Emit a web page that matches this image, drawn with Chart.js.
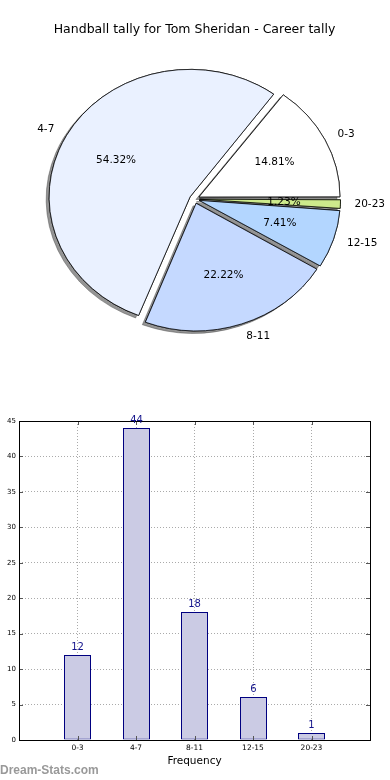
<!DOCTYPE html>
<html>
<head>
<meta charset="utf-8">
<script src="https://cdn.jsdelivr.net/npm/chart.js@4.4.0/dist/chart.umd.min.js"></script>
<style>
  body { margin: 0; background: #fff; width: 390px; height: 780px; position: relative; overflow: hidden; }
  #pieWrap { position: absolute; left: 0; top: 0; width: 390px; height: 360px; }
  #barWrap { position: absolute; left: 0; top: 400px; width: 390px; height: 380px; }
  .credit { position: absolute; left: 0; top: 764px; font: bold 12px 'Liberation Sans', sans-serif; line-height: 1; color: #999; }
</style>
</head>
<body>
<div id="pieWrap"><canvas id="pieChart" width="390" height="360"></canvas></div>
<div id="barWrap"><canvas id="barChart" width="390" height="380"></canvas></div>
<div class="credit">Dream-Stats.com</div>
<script>
// --- DATA --- //
const categories = ['0-3', '4-7', '8-11', '12-15', '20-23']
const tallies = [12, 44, 18, 6, 1]
const yTickMax = 45
const yTickStep = 5

const sliceColors = ['#ffffff', '#eaf1ff', '#c5d9ff', '#b3d6ff', '#cdea8c']
const FONT = "'DejaVu Sans', sans-serif"

// --- PIE --- //
const EXPLODE = 5 // px each wedge is pushed out
const PIE_R = 141
const SQUASH = 0.904 // pie is an ellipse in the original

const total = tallies.reduce((a, b) => a + b, 0)
// original runs counter-clockwise from 3 o'clock, Chart.js goes clockwise
const pieLabels = categories.slice().reverse()
const pieValues = tallies.slice().reverse()
const pieColors = sliceColors.slice().reverse()

const pieExtras = {
  id: 'pieExtras',
  beforeDatasetsDraw: chart => {
    const ctx = chart.ctx
    const arcs = chart.getDatasetMeta(0).data
    // Chart.js grows the radius of offset arcs, take that back
    arcs.forEach(arc => {
      const fix = 1 - Math.sin(Math.min(Math.PI, arc.circumference))
      arc.outerRadius = PIE_R - EXPLODE * fix
    })
    const { x, y } = arcs[0]
    ctx.save()
    ctx.translate(x, y)
    ctx.scale(1, SQUASH)
    ctx.translate(-x, -y)
    // shadow pass, the normal draw covers it afterwards
    arcs.forEach(arc => {
      ctx.save()
      ctx.shadowColor = 'rgba(60, 60, 60, 0.55)'
      ctx.shadowOffsetX = -3
      ctx.shadowOffsetY = 2.5
      arc.draw(ctx)
      ctx.restore()
    })
  },
  afterDatasetsDraw: chart => {
    const ctx = chart.ctx
    ctx.restore()
    const arcs = chart.getDatasetMeta(0).data
    ctx.save()
    ctx.fillStyle = '#000'
    ctx.font = `10.5px ${FONT}`
    ctx.textBaseline = 'middle'
    arcs.forEach((arc, i) => {
      const mid = (arc.startAngle + arc.endAngle) / 2
      const cos = Math.cos(mid)
      const sin = Math.sin(mid)
      const at = d => [arc.x + cos * d, arc.y + sin * d * SQUASH]

      let [px, py] = at(EXPLODE + 0.6 * PIE_R)
      ctx.textAlign = 'center'
      ctx.fillText(((pieValues[i] / total) * 100).toFixed(2) + '%', px, py)

      ;[px, py] = at(EXPLODE + 1.1 * PIE_R)
      ctx.textAlign = cos > 0 ? 'left' : 'right'
      ctx.fillText(pieLabels[i], px, py)
    })
    ctx.restore()
  }
}

new Chart(document.getElementById('pieChart'), {
  type: 'pie',
  data: {
    labels: pieLabels,
    datasets: [
      {
        data: pieValues,
        backgroundColor: pieColors,
        borderColor: '#000',
        borderWidth: 0.8,
        offset: EXPLODE * 4,
        rotation: 90,
        radius: PIE_R,
        clip: false
      }
    ]
  },
  options: {
    responsive: false,
    animation: false,
    events: [],
    layout: { padding: { top: 0, bottom: 9, left: 0, right: 1 } },
    plugins: {
      legend: { display: false },
      tooltip: { enabled: false },
      title: {
        display: true,
        text: 'Handball tally for Tom Sheridan - Career tally',
        color: '#000',
        font: { family: FONT, size: 12.5, weight: 'normal' },
        padding: { top: 22, bottom: 10 }
      }
    }
  },
  plugins: [pieExtras]
})

// --- BAR --- //
const barExtras = {
  id: 'barExtras',
  beforeDatasetsDraw: chart => {
    // snap bars to whole pixels so the thin edges stay crisp
    chart.getDatasetMeta(0).data.forEach(bar => {
      bar.x = Math.round(bar.x - 0.5) + 0.5
      bar.y = Math.round(bar.y)
    })
  },
  afterDraw: chart => {
    const ctx = chart.ctx
    const { left, top, right, bottom } = chart.chartArea
    const xs = chart.scales.x
    const ys = chart.scales.y
    ctx.save()

    // inward tick marks
    ctx.strokeStyle = '#555'
    ctx.lineWidth = 1
    ctx.beginPath()
    ys.ticks.forEach(t => {
      const py = Math.round(ys.getPixelForValue(t.value)) + 0.5
      ctx.moveTo(left, py)
      ctx.lineTo(left + 4, py)
      ctx.moveTo(right, py)
      ctx.lineTo(right - 4, py)
    })
    xs.ticks.forEach(t => {
      const px = Math.round(xs.getPixelForValue(t.value)) + 0.5
      ctx.moveTo(px, bottom)
      ctx.lineTo(px, bottom - 4)
      ctx.moveTo(px, top)
      ctx.lineTo(px, top + 4)
    })
    ctx.stroke()

    // frame
    ctx.strokeStyle = '#000'
    ctx.strokeRect(left + 0.5, top + 0.5, right - left, bottom - top)

    // counts over the bars
    ctx.fillStyle = '#14148c'
    ctx.font = `10px ${FONT}`
    ctx.textAlign = 'center'
    ctx.textBaseline = 'middle'
    chart.getDatasetMeta(0).data.forEach((bar, i) => {
      ctx.fillText(String(tallies[i]), bar.x, bar.y - 8)
    })
    ctx.restore()
  }
}

new Chart(document.getElementById('barChart'), {
  type: 'bar',
  data: {
    datasets: [
      {
        data: tallies.map((v, i) => ({ x: i, y: v })),
        backgroundColor: '#cbcbe4',
        borderColor: '#000080',
        borderWidth: 1,
        borderSkipped: false,
        inflateAmount: 0,
        barThickness: 27
      }
    ]
  },
  options: {
    responsive: false,
    animation: false,
    events: [],
    layout: { padding: { top: 21, right: 20, left: 0, bottom: 0 } },
    plugins: {
      legend: { display: false },
      tooltip: { enabled: false }
    },
    scales: {
      x: {
        type: 'linear',
        min: -1,
        max: categories.length,
        offset: false,
        z: 1,
        afterBuildTicks: axis => {
          axis.ticks = categories.map((c, i) => ({ value: i }))
        },
        afterFit: axis => {
          axis.height = 40
        },
        ticks: {
          callback: v => categories[v],
          font: { family: FONT, size: 7.5 },
          color: '#000',
          padding: 4,
          maxRotation: 0,
          autoSkip: false
        },
        grid: { color: '#aaaaaa', drawTicks: false, offset: false },
        border: { display: false, dash: [1, 2] },
        title: {
          display: true,
          text: 'Frequency',
          color: '#000',
          font: { family: FONT, size: 10.5 },
          padding: { top: 0, bottom: 12.7 }
        }
      },
      y: {
        min: 0,
        max: yTickMax,
        z: 1,
        afterFit: axis => {
          axis.width = 19
        },
        ticks: {
          stepSize: yTickStep,
          font: { family: FONT, size: 7 },
          color: '#000',
          padding: 3
        },
        grid: { color: '#aaaaaa', drawTicks: false },
        border: { display: false, dash: [1, 2] }
      }
    }
  },
  plugins: [barExtras]
})
</script>
</body>
</html>
